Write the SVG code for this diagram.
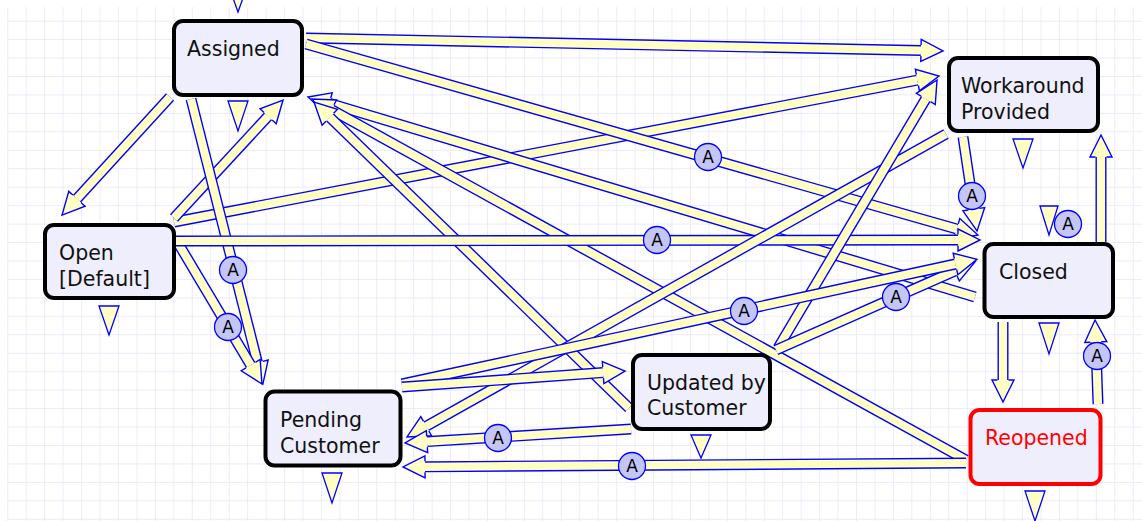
<svg xmlns="http://www.w3.org/2000/svg" width="1142" height="521" viewBox="0 0 1142 521">
  <defs>
    <pattern id="grid" x="7.3" y="2.2" width="18.45" height="18.45" patternUnits="userSpaceOnUse">
      <path d="M0,0 V18.45 M0,0 H18.45" fill="none" stroke="#e4e4fa" stroke-width="1.4"/>
    </pattern>
    <!-- fat arrowhead; the shaft ends at the head base (x=0) -->
    <marker id="hd" markerUnits="userSpaceOnUse" markerWidth="30" markerHeight="30" refX="0" refY="15" orient="auto" overflow="visible">
      <polygon points="0,4 22,15 0,26" fill="#ffffc4"/>
      <path d="M0,9.5 V4 L22,15 L0,26 V20.5" fill="none" stroke="#0000ff" stroke-width="1.4" stroke-linejoin="miter"/>
    </marker>
  </defs>
  <style>
    .o { fill: none; stroke: #0000ff; stroke-width: 11; stroke-linecap: butt; }
    .i { fill: none; stroke: #ffffc4; stroke-width: 8.2; stroke-linecap: butt; marker-end: url(#hd); }
    .node rect { fill: #eeeefc; stroke: #000; stroke-width: 4; }
    .node text { font-family: "DejaVu Sans", "Liberation Sans", sans-serif; font-size: 20.5px; fill: #111; }
    .tri { fill: #ffffc4; stroke: #0000ff; stroke-width: 1.3; }
    .ac circle { fill: #c4c6f8; stroke: #0000ff; stroke-width: 1.3; }
    .ac text { font-family: "DejaVu Sans", "Liberation Sans", sans-serif; font-size: 17px; fill: #000; text-anchor: middle; }
  </style>

  <!-- canvas and grid -->
  <rect x="0" y="0" width="1142" height="521" fill="#ffffff"/>
  <rect x="7" y="7" width="1135" height="514" fill="url(#grid)"/>

  <!-- transitions -->
  <g id="connectors">
    <g><path class="o" d="M306,38 L921,50.5"/><path class="i" d="M306,38 L921,50.5"/></g>
    <g><path class="o" d="M174,222 L917.4,80.1"/><path class="i" d="M174,222 L917.4,80.1"/></g>
    <g><path class="o" d="M306,44 L956.8,229"/><path class="i" d="M306,44 L956.8,229"/></g>
    <g><path class="o" d="M975,297 L329.1,103.3"/><path class="i" d="M975,297 L329.1,103.3"/></g>
    <g><path class="o" d="M966,460 L331.3,109.6"/><path class="i" d="M966,460 L331.3,109.6"/></g>
    <g><path class="o" d="M629,408 L329.8,117.3"/><path class="i" d="M629,408 L329.8,117.3"/></g>
    <g><path class="o" d="M170,97 L76.9,198.8"/><path class="i" d="M170,97 L76.9,198.8"/></g>
    <g><path class="o" d="M174,218 L268.1,116.2"/><path class="i" d="M174,218 L268.1,116.2"/></g>
    <g><path class="o" d="M191,99 L257.5,362.7"/><path class="i" d="M191,99 L257.5,362.7"/></g>
    <g><path class="o" d="M178,243 L250.7,365.1"/><path class="i" d="M178,243 L250.7,365.1"/></g>
    <g><path class="o" d="M176,241 L958,240"/><path class="i" d="M176,241 L958,240"/></g>
    <g><path class="o" d="M946,134 L426.2,426.2"/><path class="i" d="M946,134 L426.2,426.2"/></g>
    <g><path class="o" d="M778,348 L925.8,98.9"/><path class="i" d="M778,348 L925.8,98.9"/></g>
    <g><path class="o" d="M776,350 L954.9,270.9"/><path class="i" d="M776,350 L954.9,270.9"/></g>
    <g><path class="o" d="M402,384 L955.5,264"/><path class="i" d="M402,384 L955.5,264"/></g>
    <g><path class="o" d="M402,387 L603.1,372.6"/><path class="i" d="M402,387 L603.1,372.6"/></g>
    <g><path class="o" d="M631,429 L427,441.6"/><path class="i" d="M631,429 L427,441.6"/></g>
    <g><path class="o" d="M966,463 L425,466.8"/><path class="i" d="M966,463 L425,466.8"/></g>
    <g><path class="o" d="M963,137 L973.8,209.2"/><path class="i" d="M963,137 L973.8,209.2"/></g>
    <g><path class="o" d="M1003,322 L1003,380"/><path class="i" d="M1003,322 L1003,380"/></g>
    <g><path class="o" d="M1101,242 L1101,157"/><path class="i" d="M1101,242 L1101,157"/></g>
    <g><path class="o" d="M1098,404 L1095.8,342"/><path class="i" d="M1098,404 L1095.8,342"/></g>

    <!-- condition badges -->
    <g class="ac"><circle cx="708" cy="157" r="13.5"/><text x="708" y="163">A</text></g>
    <g class="ac"><circle cx="657" cy="240" r="13.5"/><text x="657" y="246">A</text></g>
    <g class="ac"><circle cx="233" cy="270" r="13.5"/><text x="233" y="276">A</text></g>
    <g class="ac"><circle cx="228" cy="327" r="13.5"/><text x="228" y="333">A</text></g>
    <g class="ac"><circle cx="972" cy="196" r="13.5"/><text x="972" y="202">A</text></g>
    <g class="ac"><circle cx="1068" cy="224" r="13.5"/><text x="1068" y="230">A</text></g>
    <g class="ac"><circle cx="896" cy="297" r="13.5"/><text x="896" y="303">A</text></g>
    <g class="ac"><circle cx="744" cy="311" r="13.5"/><text x="744" y="317">A</text></g>
    <g class="ac"><circle cx="1097" cy="356" r="13.5"/><text x="1097" y="362">A</text></g>
    <g class="ac"><circle cx="498" cy="438" r="13.5"/><text x="498" y="444">A</text></g>
    <g class="ac"><circle cx="632" cy="466" r="13.5"/><text x="632" y="472">A</text></g>
  </g>

  <!-- menu triangles -->
  <g id="menus">
    <polygon class="tri" points="233,-2 243,-2 238,12"/>
    <polygon class="tri" points="228,101 248,101 238,131"/>
    <polygon class="tri" points="99,306 119,306 109,335"/>
    <polygon class="tri" points="322,473 342,473 332,503"/>
    <polygon class="tri" points="691,435 711,435 701,458"/>
    <polygon class="tri" points="1025,491 1045,491 1035,521"/>
    <polygon class="tri" points="1013,139 1033,139 1023,168"/>
    <polygon class="tri" points="1040,206 1058,206 1049,235"/>
    <polygon class="tri" points="1039,323 1059,323 1049,354"/>
  </g>

  <!-- states -->
  <g id="assigned" class="node">
    <rect x="174" y="21" width="128" height="74" rx="9"/>
    <text x="187" y="56">Assigned</text>
  </g>
  <g id="workaround-provided" class="node">
    <rect x="949" y="58" width="149" height="73" rx="9"/>
    <text x="961" y="93">Workaround</text>
    <text x="961" y="119">Provided</text>
  </g>
  <g id="open" class="node">
    <rect x="45" y="225" width="129" height="73" rx="9"/>
    <text x="59" y="260">Open</text>
    <text x="59" y="286">[Default]</text>
  </g>
  <g id="closed" class="node">
    <rect x="984.5" y="244" width="128.5" height="73" rx="9"/>
    <text x="999" y="279">Closed</text>
  </g>
  <g id="pending-customer" class="node">
    <rect x="265.5" y="391.5" width="135" height="74" rx="9"/>
    <text x="280" y="427">Pending</text>
    <text x="280" y="453">Customer</text>
  </g>
  <g id="updated-by-customer" class="node">
    <rect x="633" y="355" width="137" height="74" rx="9"/>
    <text x="647" y="390">Updated by</text>
    <text x="647" y="415">Customer</text>
  </g>
  <g id="reopened" class="node">
    <rect x="970.5" y="410" width="130" height="74" rx="9" style="stroke:#ff0000"/>
    <text x="985" y="445" style="fill:#ff0000">Reopened</text>
  </g>
</svg>
